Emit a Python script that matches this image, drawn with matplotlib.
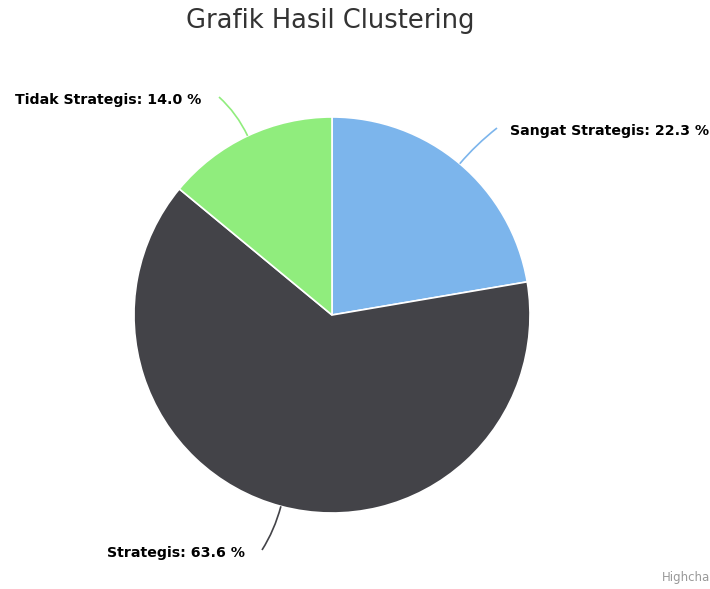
import numpy as np
import matplotlib
matplotlib.use("Agg")
import matplotlib.pyplot as plt
from matplotlib.path import Path
from matplotlib.patches import PathPatch

title = "Grafik Hasil Clustering"
categories = ["Sangat Strategis", "Strategis", "Tidak Strategis"]
values = [22.3, 63.6, 14.0]
colors = ["#7cb5ec", "#434348", "#90ed7d"]

W, H = 710, 589
fig = plt.figure(figsize=(W / 100, H / 100), dpi=100)
ax = fig.add_axes([0, 0, 1, 1])

cx, cy, r = 332, H - 315, 198
wedges, _ = ax.pie(values, colors=colors, startangle=90, counterclock=False,
                   center=(cx, cy), radius=r,
                   wedgeprops=dict(edgecolor="white", linewidth=1.2))
ax.set_xlim(0, W)
ax.set_ylim(0, H)
ax.set_aspect("equal")
ax.axis("off")

# label layout: (text x, text y in pixel-from-top, ha, connector end x)
layout = [
    (510, 131, "left", 497),
    (107, 553, "left", 262),
    (15, 100, "left", 219),
]

for w, cat, val, col, (tx, ty, ha, ex) in zip(wedges, categories, values, colors, layout):
    ang = np.deg2rad((w.theta1 + w.theta2) / 2)
    px, py = cx + r * np.cos(ang), cy + r * np.sin(ang)
    ey = H - ty + 3
    ox, oy = cx + (r + 25) * np.cos(ang), cy + (r + 25) * np.sin(ang)
    path = Path([(ex, ey), (ox, oy), (px, py)], [Path.MOVETO, Path.CURVE3, Path.CURVE3])
    ax.add_patch(PathPatch(path, facecolor="none", edgecolor=col, linewidth=1.2))
    ax.text(tx, H - ty, f"{cat}: {val:.1f} %", ha=ha, va="center",
            fontsize=10.2, fontweight="bold", color="black")

ax.text(330, H - 21, title, ha="center", va="center", fontsize=18.5, color="#333333")
ax.text(662, H - 578, "Highcha", ha="left", va="center", fontsize=8.5, color="#999999")

fig.savefig("out.png", dpi=100)
